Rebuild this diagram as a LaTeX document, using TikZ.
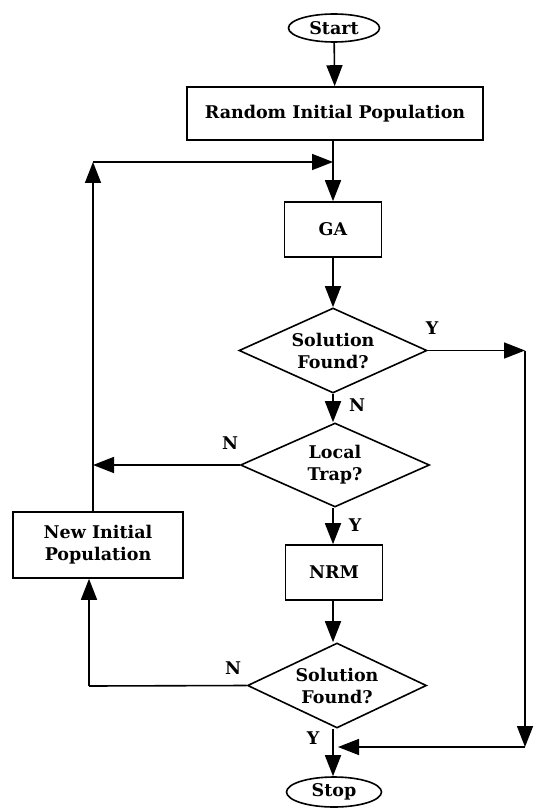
\documentclass[tikz,border=0pt]{standalone}
\usepackage{fontspec}
\setmainfont{DejaVu Serif}
\usetikzlibrary{shapes.geometric,arrows.meta}
\begin{document}
\begin{tikzpicture}[x=1pt,y=-1pt,
  every node/.style={font=\bfseries\fontsize{17.5}{22}\selectfont, inner sep=0pt},
  line/.style={line width=1.6pt},
  arr/.style={line width=1.6pt,-{Triangle[length=21pt,width=16pt]}},
  boxnode/.style={draw,line width=1.6pt,rectangle,align=center},
  dec/.style={draw,line width=1.6pt,diamond,aspect=2.2,align=center},
  term/.style={draw,line width=1.6pt,ellipse},
  lab/.style={font=\bfseries\fontsize{17.5}{20}\selectfont}]
\useasboundingbox (0,0) rectangle (537,810);
\node[term,minimum width=91pt,minimum height=28pt] (start) at (334,28) {Start};
\node[boxnode,minimum width=296pt,minimum height=53pt] (rip) at (335,113.5) {Random Initial Population};
\node[boxnode,minimum width=97pt,minimum height=55pt] (ga) at (333,229.5) {GA};
\node[dec,minimum width=188pt,minimum height=85pt] (d1) at (333,350.5) {Solution\\Found?};
\node[dec,minimum width=189pt,minimum height=84pt] (d2) at (335,465) {Local\\Trap?};
\node[boxnode,minimum width=97pt,minimum height=55pt] (nrm) at (334,572.5) {NRM};
\node[dec,minimum width=179pt,minimum height=85pt] (d3) at (337,685.5) {Solution\\Found?};
\node[term,minimum width=95pt,minimum height=30pt] (stop) at (334,792) {Stop};
\node[boxnode,minimum width=170pt,minimum height=66pt] (nip) at (98,545) {New Initial\\Population};

\coordinate (j) at (333,162);
\coordinate (c1) at (525,350.5);
\coordinate (c2) at (525,747);
\coordinate (c3) at (338,747);
\coordinate (c4) at (93,465);
\coordinate (c5) at (93,162);
\coordinate (c7) at (89,686);

\draw[arr] (start) -- (rip);
\draw[arr] (rip.south -| j) -- (ga.north -| j);
\draw[arr] (ga.south -| j) -- (d1.north -| j);
\draw[arr] (d1.south -| j) -- (d2.north -| j);
\draw[arr] (d2.south -| j) -- (nrm.north -| j);
\draw[arr] (nrm.south -| j) -- (d3.north -| j);
\draw[arr] (d3.south -| j) -- (stop.north -| j);

\draw[arr] (d1.east) -- (c1);
\draw[arr] (c1) -- (c2);
\draw[arr] (c2) -- (c3);

\draw[arr] (d2.west) -- (c4);
\draw[arr] (nip.north -| c5) -- (c5);
\draw[arr] (c5) -- (j);

\draw[line] (d3.west) -- (c7);
\draw[arr] (c7) -- (nip.south -| c7);

\node[lab] (y1) at (432,328) {Y};
\node[lab] (n1) at (357,405) {N};
\node[lab] (n2) at (230,443) {N};
\node[lab] (y2) at (355,525) {Y};
\node[lab] (n3) at (233,668) {N};
\node[lab] (y3) at (313,738) {Y};
\end{tikzpicture}
\end{document}
